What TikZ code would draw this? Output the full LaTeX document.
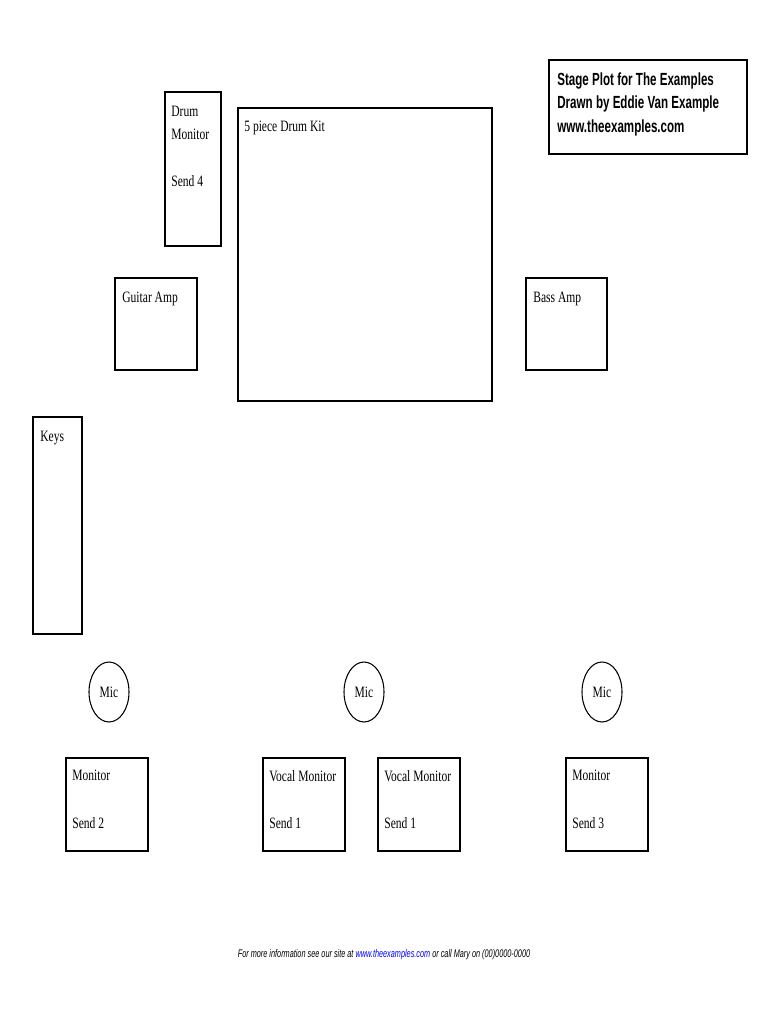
\documentclass[tikz,border=0pt]{standalone}
\usepackage{fontspec}
\setmainfont[FakeStretch=0.73]{Liberation Serif}
\newfontfamily\narrowsans[FakeStretch=0.66]{Liberation Sans}
\usepackage{tikz}

\tikzset{
  gear/.style={draw,semithick},
  lbl/.style={anchor=north west,align=left,inner sep=0pt,font=\fontsize{9}{11}\selectfont}
}

\begin{document}
\begin{tikzpicture}[x=0.02cm,y=-0.02cm]
\useasboundingbox (0,0) rectangle (768,1024);
% title block
\draw[gear] (549,60) rectangle (747,154);
\node[lbl,font=\narrowsans\bfseries\fontsize{10}{13.5}\selectfont] (title) at (557,72)
 {Stage Plot for The Examples\\Drawn by Eddie Van Example\\www.theexamples.com};
% backline
\draw[gear] (165,92) rectangle (221,246);
\node[lbl,font=\fontsize{9}{13}\selectfont] (drummon) at (171,106) {Drum\\Monitor\\[14pt]Send 4};
\draw[gear] (238,108) rectangle (492,401);
\node[lbl] (kit) at (244,121) {5 piece Drum Kit};
\draw[gear] (115,278) rectangle (197,370);
\node[lbl] (gtr) at (122,292) {Guitar Amp};
\draw[gear] (526,278) rectangle (607,370);
\node[lbl] (bass) at (533,292) {Bass Amp};
\draw[gear] (33,417) rectangle (82,634);
\node[lbl] (keys) at (40,431) {Keys};
% mics
\foreach \x/\n in {109/micL,364/micC,602/micR}{
  \draw[gear] (\x,692) ellipse [x radius=20,y radius=30];
  \node[font=\fontsize{9}{11}\selectfont] (\n) at (\x,692) {Mic};
}
% monitors
\foreach \x/\a/\b/\n in {66/Monitor/Send 2/monA,263/Vocal Monitor/Send 1/monB,378/Vocal Monitor/Send 1/monC,566/Monitor/Send 3/monD}{
  \draw[gear] (\x,758) rectangle ++(82,93);
  \node[lbl,font=\fontsize{9}{13}\selectfont] (\n) at (\x+6,770) {\a\\[14pt]\b};
}
% footer
\node[font=\narrowsans\itshape\fontsize{6.3}{8}\selectfont] (foot) at (384,955)
 {For more information see our site at \textcolor{blue}{www.theexamples.com} or call Mary on (00)0000-0000};
\end{tikzpicture}
\end{document}
